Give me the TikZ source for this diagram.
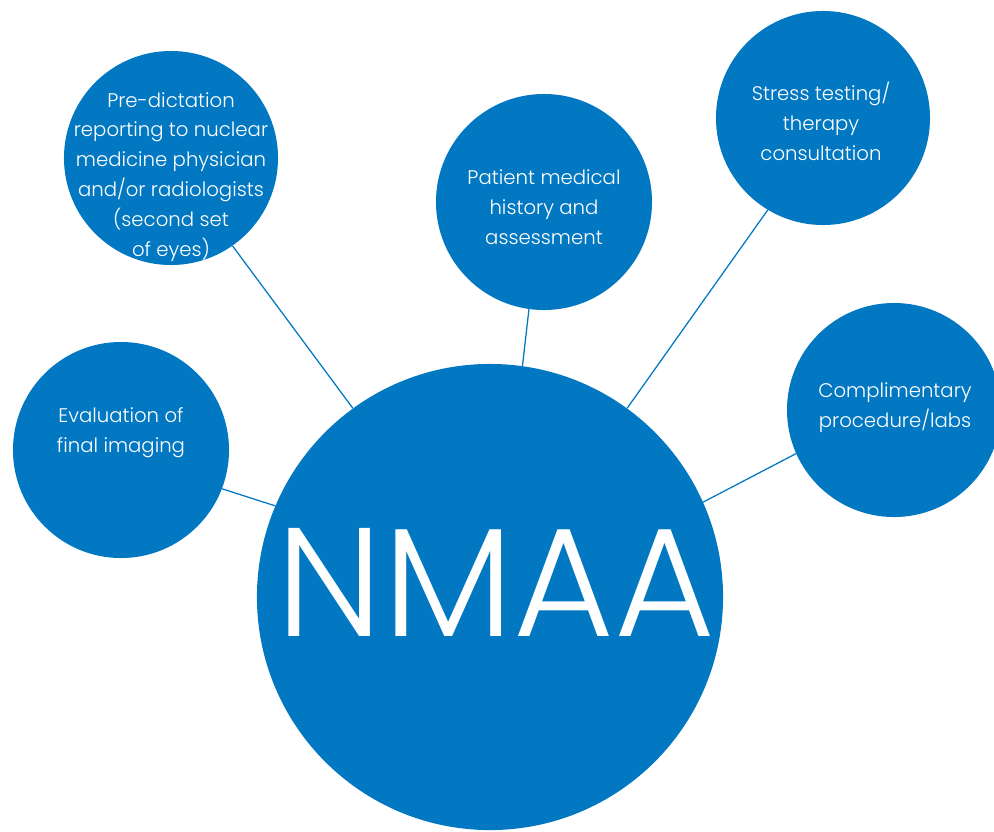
\documentclass[tikz,border=0pt]{standalone}
\usepackage{fontspec}
\setmainfont{Poppins}[UprightFont=* Light]
\definecolor{BubbleBlue}{RGB}{2,120,194}
\colorlet{BubbleText}{white}

\tikzset{
    bubble/.style={circle, fill=BubbleBlue, inner sep=0pt, minimum size=#1},
    bubble/.default=5.4cm,
    caption/.style={text=BubbleText, align=center, font=\fontsize{14}{21.3}\selectfont},
    link/.style={draw=BubbleBlue, line width=0.9pt}
}

\begin{document}
\begin{tikzpicture}[x=0.025cm, y=-0.025cm]

    \useasboundingbox (0, 0) rectangle (994, 831);

    % Circulos
    \node[bubble=11.65cm] (N) at (490, 597) {};
    \node[bubble] (E) at (121, 450) {};
    \node[bubble=5.35cm] (P) at (171, 158) {};
    \node[bubble] (H) at (544, 202) {};
    \node[bubble=5.35cm] (S) at (823, 118) {};
    \node[bubble=5.35cm] (C) at (894, 410) {};

    % Uniones de borde a borde
    \draw[link] (E.-21.6) -- (N.157);
    \draw[link] (P.-55.8) -- (N.126.8);
    \draw[link] (H.262.5) -- (N.82);
    \draw[link] (S.239.1) -- (N.54.2);
    \draw[link] (C.204.6) -- (N.24.7);

    % Textos
    \node[text=BubbleText, font=\fontsize{110}{110}\selectfont] (NT) at (496, 582) {NMAA};
    \node[caption] (ET) at (121, 433) {Evaluation of\\final imaging};
    \node[caption] (PT) at (171, 177) {Pre-dictation\\reporting to nuclear\\medicine physician\\and/or radiologists\\(second set\\of eyes)};
    \node[caption] (HT) at (544, 207) {Patient medical\\history and\\assessment};
    \node[caption] (ST) at (821, 121) {Stress testing/\\therapy\\consultation};
    \node[caption] (CT) at (895, 408) {Complimentary\\procedure/labs};
\end{tikzpicture}
\end{document}
